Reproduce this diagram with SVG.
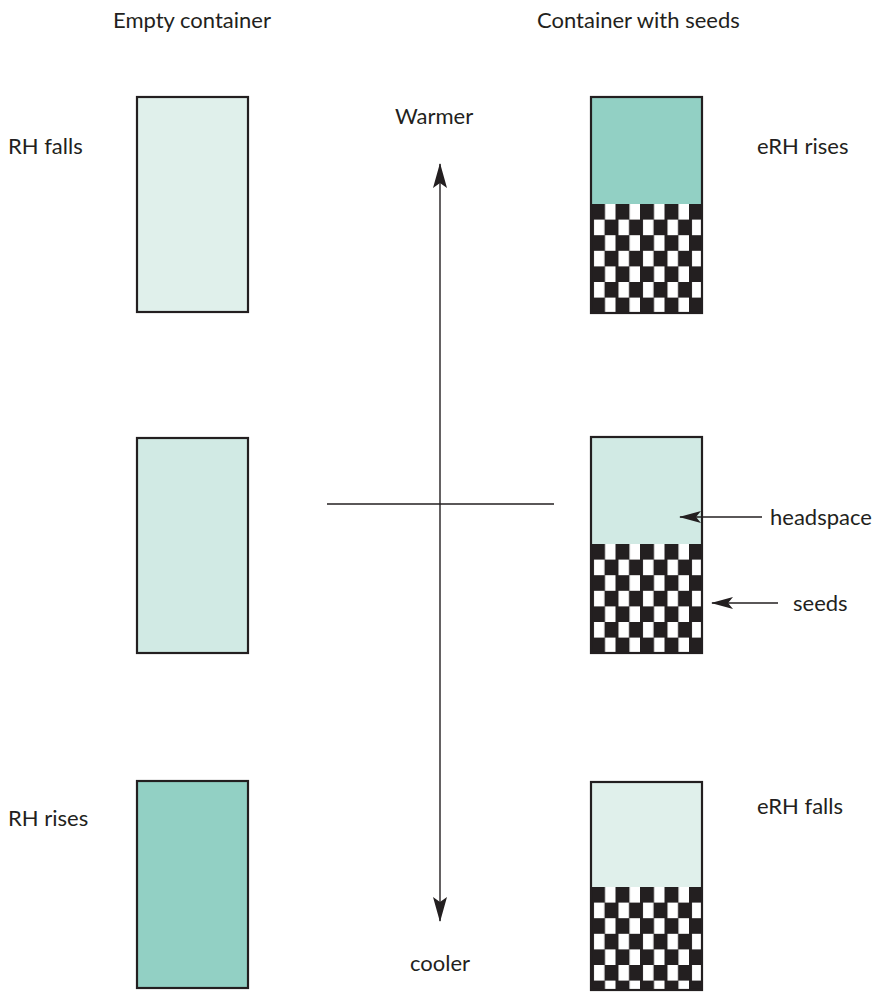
<svg xmlns="http://www.w3.org/2000/svg" width="875" height="997" viewBox="0 0 875 997">
<style>
text{font-family:Lato,"Open Sans","DejaVu Sans",sans-serif;font-size:22px;fill:#231f20}
.box{stroke:#231f20;stroke-width:2.2;fill:none}
.c1{fill:#e0f0eb}.c2{fill:#d1eae4}.c3{fill:#92d0c4}
.ln{stroke:#231f20;stroke-width:1.4;fill:none}
</style>
<defs>
<pattern id="chk" patternUnits="userSpaceOnUse" width="24.5" height="31.2">
<rect width="24.5" height="31.2" fill="#fff"/>
<rect x="0" y="0" width="14" height="15.6" fill="#231f20"/>
<rect x="13.5" y="15.6" width="11" height="15.6" fill="#231f20"/>
<rect x="0" y="15.6" width="3" height="15.6" fill="#231f20"/>
</pattern>
<marker id="ah" viewBox="0 0 25 14" refX="24" refY="7" markerWidth="25" markerHeight="14" markerUnits="userSpaceOnUse" orient="auto-start-reverse">
<path d="M0,0 L25,7 L0,14 L5,7 Z" fill="#231f20"/>
</marker>
<marker id="ah2" viewBox="0 0 22 12" refX="21" refY="6" markerWidth="22" markerHeight="12" markerUnits="userSpaceOnUse" orient="auto">
<path d="M0,0 L22,6 L0,12 L5,6 Z" fill="#231f20"/>
</marker>
</defs>
<g id="titles">
<text x="113" y="28">Empty container</text>
<text x="537" y="28">Container with seeds</text>
</g>
<g id="empty-top"><rect class="c1" x="137" y="97" width="111" height="215"/><rect class="box" x="137" y="97" width="111" height="215"/></g>
<g id="empty-mid"><rect class="c2" x="137" y="438" width="111" height="215"/><rect class="box" x="137" y="438" width="111" height="215"/></g>
<g id="empty-bot"><rect class="c3" x="137" y="781" width="111" height="207"/><rect class="box" x="137" y="781" width="111" height="207"/></g>
<g id="seeds-top">
<rect class="c3" x="591" y="97" width="111" height="107"/>
<g transform="translate(591,204)"><rect width="111" height="109" fill="url(#chk)"/></g>
<rect class="box" x="591" y="97" width="111" height="216"/>
</g>
<g id="seeds-mid">
<rect class="c2" x="591" y="437" width="111" height="107"/>
<g transform="translate(591,544)"><rect width="111" height="109" fill="url(#chk)"/></g>
<rect class="box" x="591" y="437" width="111" height="216"/>
</g>
<g id="seeds-bot">
<rect class="c1" x="591" y="782" width="111" height="105"/>
<g transform="translate(591,887)"><rect width="111" height="103" fill="url(#chk)"/></g>
<rect class="box" x="591" y="782" width="111" height="208"/>
</g>
<g id="labels">
<text x="8" y="154">RH falls</text>
<text x="757" y="154">eRH rises</text>
<text x="395" y="124">Warmer</text>
<text x="770" y="525">headspace</text>
<text x="793" y="611">seeds</text>
<text x="8" y="826">RH rises</text>
<text x="757" y="814">eRH falls</text>
<text x="410" y="971">cooler</text>
</g>
<g id="connectors">
<line class="ln" x1="440" y1="164" x2="440" y2="921" marker-start="url(#ah)" marker-end="url(#ah)"/>
<line class="ln" x1="327" y1="504" x2="554" y2="504"/>
<line class="ln" x1="762" y1="517" x2="680" y2="517" marker-end="url(#ah2)"/>
<line class="ln" x1="778" y1="603" x2="712" y2="603" marker-end="url(#ah2)"/>
</g>
</svg>
